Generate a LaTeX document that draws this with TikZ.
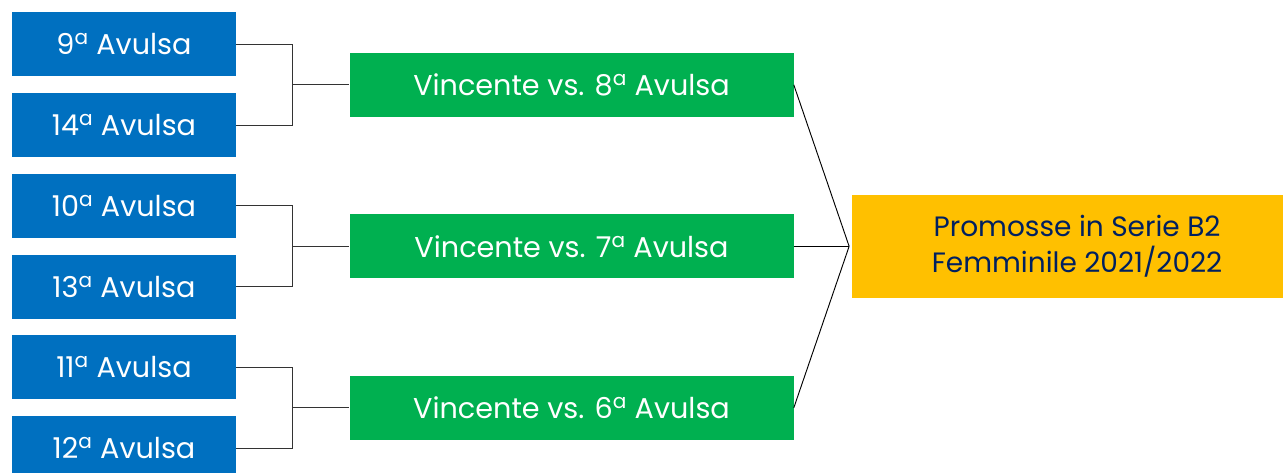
\documentclass[tikz,border=0pt]{standalone}
\usepackage{fontspec}
\setmainfont{Poppins}
\usetikzlibrary{positioning, calc}
\definecolor{avulsablue}{HTML}{0070C0}
\definecolor{vincentegreen}{HTML}{00B050}
\definecolor{promosseyellow}{HTML}{FFC000}
\definecolor{promossenavy}{HTML}{002060}
\tikzset{
	every node/.style={
		align=center,
	},
}
\tikzstyle{every avulsa} = [fill=avulsablue, text=white, minimum width=168pt, minimum height=48pt, inner sep=0pt, font=\fontsize{21.5}{24}\selectfont]
\tikzstyle{every vincente} = [fill=vincentegreen, text=white, minimum width=333pt, minimum height=48pt, inner sep=0pt, font=\fontsize{21.5}{24}\selectfont]
\tikzstyle{every promosse} = [fill=promosseyellow, text=promossenavy, minimum width=337.5pt, minimum height=77.25pt, inner sep=0pt, font=\fontsize{21}{27}\selectfont]
\tikzstyle{every bracket} = [draw=black!80, line width=0.7pt]
\tikzstyle{every final} = [draw=black, line width=0.7pt]

\begin{document}
\begin{tikzpicture}[x=0.75pt, y=-0.75pt]
    \useasboundingbox (0,0) rectangle (1283,473);

    \node[every avulsa] (avulsa9) at (124,44.5) {9\textsuperscript{a} Avulsa};
    \node[every avulsa, below=12.15pt of avulsa9] (avulsa14) {14\textsuperscript{a} Avulsa};
    \node[every avulsa, below=12.15pt of avulsa14] (avulsa10) {10\textsuperscript{a} Avulsa};
    \node[every avulsa, below=12.15pt of avulsa10] (avulsa13) {13\textsuperscript{a} Avulsa};
    \node[every avulsa, below=12.15pt of avulsa13] (avulsa11) {11\textsuperscript{a} Avulsa};
    \node[every avulsa, below=12.15pt of avulsa11] (avulsa12) {12\textsuperscript{a} Avulsa};

    \coordinate (mid8) at ($(avulsa9.east)!0.5!(avulsa14.east)$);
    \coordinate (mid7) at ($(avulsa10.east)!0.5!(avulsa13.east)$);
    \coordinate (mid6) at ($(avulsa11.east)!0.5!(avulsa12.east)$);

    \node[every vincente, right=84.75pt of mid8] (vincente8) {Vincente vs. 8\textsuperscript{a} Avulsa};
    \node[every vincente, right=84.75pt of mid7] (vincente7) {Vincente vs. 7\textsuperscript{a} Avulsa};
    \node[every vincente, right=84.75pt of mid6] (vincente6) {Vincente vs. 6\textsuperscript{a} Avulsa};

    \node[every promosse, right=43.5pt of vincente7] (promosse) {Promosse in Serie B2\\Femminile 2021/2022};
    \coordinate (join) at ([xshift=-2pt]promosse.west);

    \draw[every bracket] (avulsa9.east) -- ++(42pt,0) |- (vincente8.west);
    \draw[every bracket] (avulsa14.east) -- ++(42pt,0) |- (vincente8.west);
    \draw[every bracket] (avulsa10.east) -- ++(42pt,0) |- (vincente7.west);
    \draw[every bracket] (avulsa13.east) -- ++(42pt,0) |- (vincente7.west);
    \draw[every bracket] (avulsa11.east) -- ++(42pt,0) |- (vincente6.west);
    \draw[every bracket] (avulsa12.east) -- ++(42pt,0) |- (vincente6.west);

    \draw[every final] (vincente8.east) -- (join);
    \draw[every final] (vincente7.east) -- (join);
    \draw[every final] (vincente6.east) -- (join);

\end{tikzpicture}
\end{document}
